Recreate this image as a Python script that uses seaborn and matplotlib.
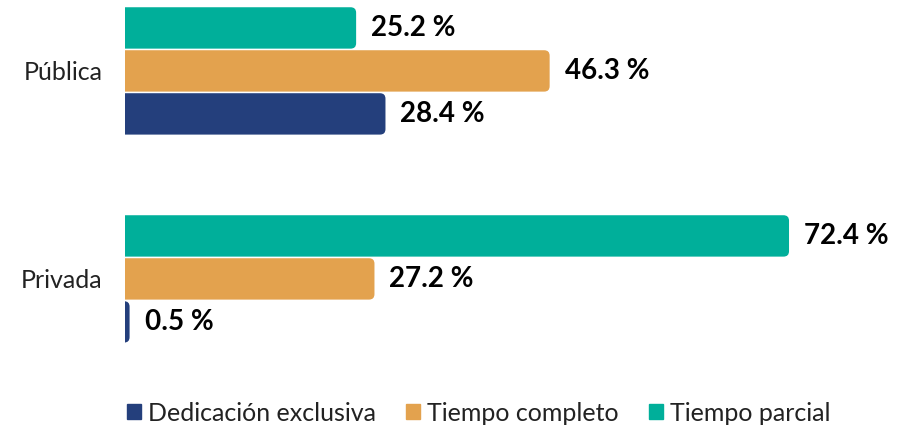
import pandas as pd
import seaborn as sns
import matplotlib.pyplot as plt
from matplotlib.patches import FancyBboxPatch, Patch

sectores = ["Pública", "Privada"]
tipos = ["Tiempo parcial", "Tiempo completo", "Dedicación exclusiva"]
tiempo_parcial = [25.2, 72.4]
tiempo_completo = [46.3, 27.2]
dedicacion_exclusiva = [28.4, 0.5]
colores = {"Tiempo parcial": "#00AF9A",
           "Tiempo completo": "#E3A24E",
           "Dedicación exclusiva": "#243F7C"}

rows = []
for serie, vals in zip(tipos, [tiempo_parcial, tiempo_completo, dedicacion_exclusiva]):
    for s, v in zip(sectores, vals):
        rows.append({"sector": s, "tipo": serie, "valor": v})
df = pd.DataFrame(rows)

sns.set_style("white")
plt.rcParams['font.family'] = ['Lato', 'DejaVu Sans']

fig = plt.figure(figsize=(9.12, 4.28), dpi=100)
ax = fig.add_axes([125 / 912, 53 / 428, 775 / 912, 375 / 428])

sns.barplot(data=df, y="sector", x="valor", hue="tipo", hue_order=tipos,
            order=sectores, palette=colores, orient="h", width=0.62,
            saturation=1, legend=False, ax=ax)

ymin, ymax = -0.341, 1.462
ax.set_xlim(0, 84.5)
ax.set_ylim(ymax, ymin)

# redraw bars with rounded right end
px_x = 775 / 84.5
px_y = 375 / (ymax - ymin)
r = 5.5
for p in list(ax.patches):
    x0, y0 = p.get_x(), p.get_y()
    w, h = p.get_width(), p.get_height()
    c = p.get_facecolor()
    p.set_visible(False)
    gap = 0.8 / px_y
    rad = r / px_x
    box = FancyBboxPatch((x0 - rad * 2, y0 + gap), w + rad * 2, h - 2 * gap,
                         boxstyle=f"round,pad=0,rounding_size={rad}",
                         mutation_aspect=px_x / px_y,
                         facecolor=c, edgecolor="none")
    ax.add_patch(box)
    ax.text(x0 + w + 15 / px_x, y0 + h / 2, f"{w:.1f} %", va="center",
            ha="left", fontsize=20, fontweight="bold", color="black")

ax.set_xlabel("")
ax.set_ylabel("")
ax.set_xticks([])
ax.tick_params(axis="y", length=0, pad=16, labelsize=18, labelcolor="#222222")
for s in ax.spines.values():
    s.set_visible(False)

handles = [Patch(color=colores[t]) for t in reversed(tipos)]
fig.legend(handles, list(reversed(tipos)), loc="center", ncol=3,
           bbox_to_anchor=(0.525, 0.035), frameon=False, fontsize=18,
           labelcolor="#222222",
           handlelength=0.55, handleheight=0.55, handletextpad=0.3,
           columnspacing=1.2)

fig.savefig("out.png", dpi=100)
